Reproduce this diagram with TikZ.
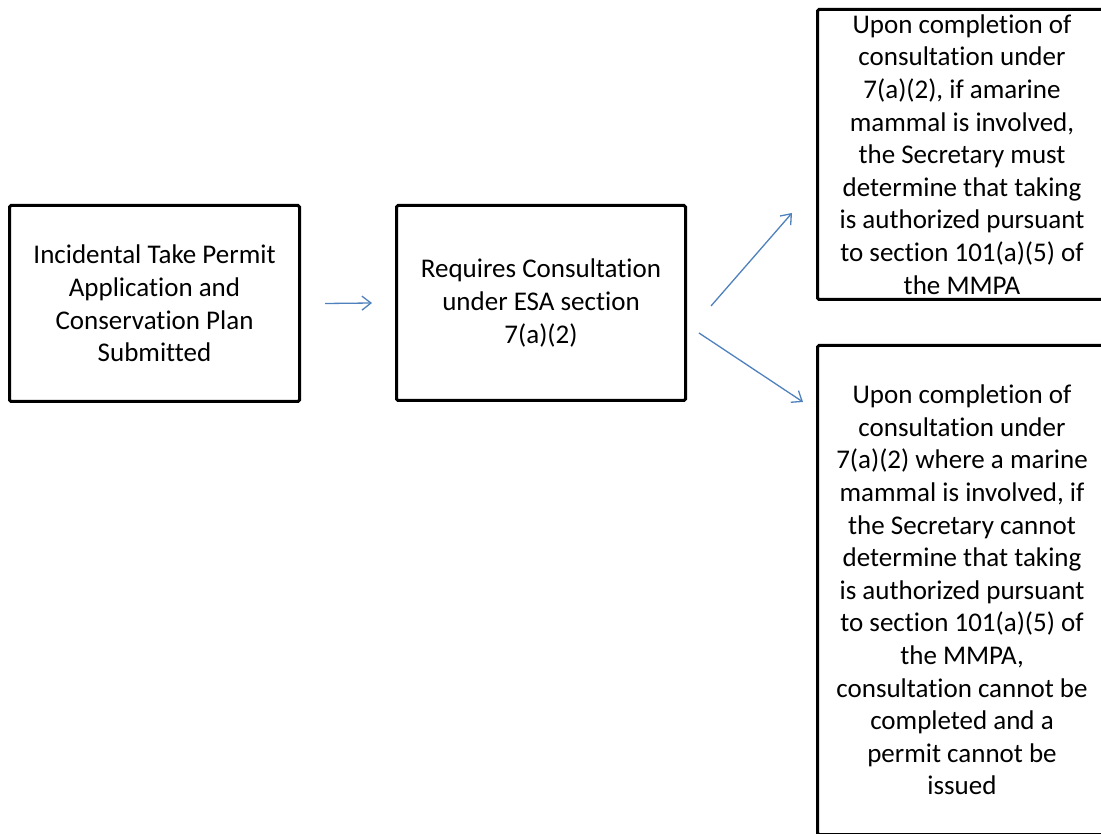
\documentclass[tikz,border=0pt]{standalone}
\usepackage{fontspec}
\setmainfont[Ligatures={NoCommon,NoRare}]{Carlito}
\usetikzlibrary{arrows.meta,calc}
\definecolor{flowblue}{HTML}{4F81BD}
\tikzset{
  stepbox/.style={draw=black, line width=3pt, rounded corners=1.5pt, inner sep=0pt,
    align=center, font=\fontsize{27}{32.6}\selectfont, fill=white},
  flowarrow/.style={draw=flowblue, line width=1.3pt,
    -{Straight Barb[length=9pt,width=14pt,line width=1.3pt]}}
}
\begin{document}
\begin{tikzpicture}[x=1pt,y=-1pt]
  \useasboundingbox (0,0) rectangle (1101,834);
  \clip (0,0) rectangle (1101,834);
  \fill[white] (0,0) rectangle (1101,834);

  % process boxes
  \node[stepbox, minimum width=290pt, minimum height=196pt] (b1) at (154.5,303.5)
    {Incidental Take Permit\\Application and\\Conservation Plan\\Submitted};
  \node[stepbox, minimum width=289pt, minimum height=195pt] (b2) at (541,303)
    {Requires Consultation\\under ESA section\\7(a)(2)};
  \node[stepbox, minimum width=289pt, minimum height=290pt] (b3) at (962,154.5)
    {Upon completion of\\consultation under\\7(a)(2), if amarine\\mammal is involved,\\the Secretary must\\determine that taking\\is authorized pursuant\\to section 101(a)(5) of\\the MMPA};
  \node[stepbox, minimum width=289pt, minimum height=489pt] (b4) at (962,590)
    {Upon completion of\\consultation under\\7(a)(2) where a marine\\mammal is involved, if\\the Secretary cannot\\determine that taking\\is authorized pursuant\\to section 101(a)(5) of\\the MMPA,\\consultation cannot be\\completed and a\\permit cannot be\\issued};

  % connectors
  \draw[flowarrow] ($(b1.east)+(24,0)$) -- ($(b2.west)+(-23,0)$);
  \draw[flowarrow] ($(b2.east)+(24,3)$) -- ($(b3.west)+(-24,58.5)$);
  \draw[flowarrow] ($(b2.east)+(12,30)$) -- ($(b4.west)+(-13,-188)$);
\end{tikzpicture}
\end{document}
